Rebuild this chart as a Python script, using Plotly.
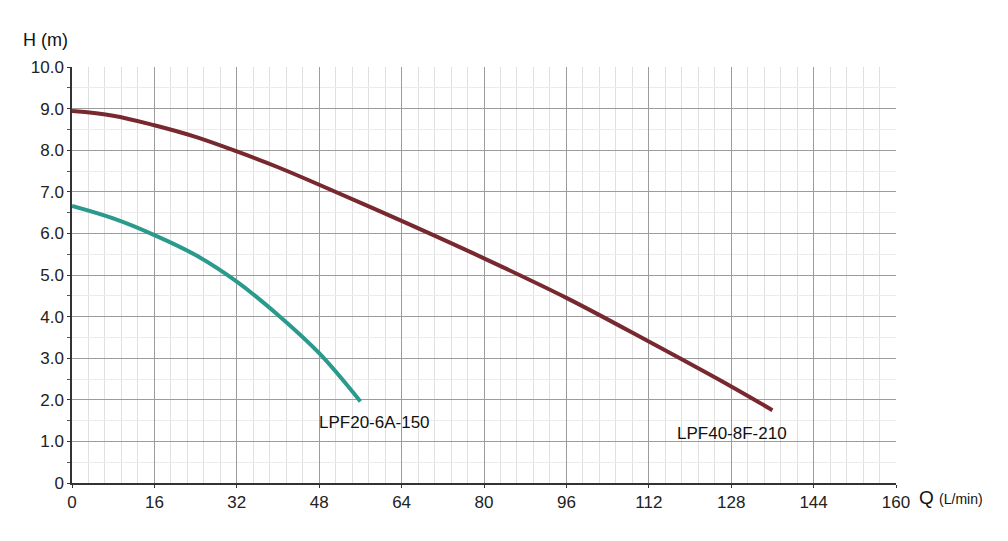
import plotly.graph_objects as go

# LPF40-8F-210 curve
q_lpf40 = [0, 8, 16, 24, 32, 40, 48, 64, 80, 96, 112, 128, 136]
h_lpf40 = [8.94, 8.83, 8.60, 8.32, 7.97, 7.59, 7.17, 6.30, 5.40, 4.45, 3.40, 2.32, 1.75]

# LPF20-6A-150 curve
q_lpf20 = [0, 8, 16, 24, 32, 40, 48, 56]
h_lpf20 = [6.66, 6.36, 5.96, 5.48, 4.84, 4.04, 3.12, 1.96]

x_ticks = [0, 16, 32, 48, 64, 80, 96, 112, 128, 144, 160]
y_ticks = [0, 1, 2, 3, 4, 5, 6, 7, 8, 9, 10]
y_labels = ["0", "1.0", "2.0", "3.0", "4.0", "5.0", "6.0", "7.0", "8.0", "9.0", "10.0"]

fig = go.Figure()
fig.add_trace(go.Scatter(x=q_lpf40, y=h_lpf40, mode='lines', line_shape='spline',
                         line=dict(color='#77292f', width=4), hoverinfo='x+y', name='LPF40-8F-210'))
fig.add_trace(go.Scatter(x=q_lpf20, y=h_lpf20, mode='lines', line_shape='spline',
                         line=dict(color='#2a9a8c', width=4), hoverinfo='x+y', name='LPF20-6A-150'))

fig.add_annotation(x=47.5, y=1.45, text='LPF20-6A-150', showarrow=False, xanchor='left',
                   font=dict(size=17, color='#111'))
fig.add_annotation(x=117, y=1.2, text='LPF40-8F-210', showarrow=False, xanchor='left',
                   font=dict(size=17, color='#111'))

# axis titles
fig.add_annotation(xref='paper', yref='paper', x=-0.062, y=1.035, text='H (m)', showarrow=False,
                   xanchor='left', yanchor='bottom', font=dict(size=18, color='#111'))
fig.add_annotation(xref='paper', yref='paper', x=1.025, y=-0.035, text="Q <span style='font-size:14px'>(L/min)</span>",
                   showarrow=False, xanchor='left', yanchor='middle', font=dict(size=19, color='#111'))

fig.update_xaxes(range=[0, 160], tickvals=x_ticks, showgrid=True, gridcolor='#9c9c9c', gridwidth=1,
                 minor=dict(dtick=3.2, showgrid=True, gridcolor='#e0e0e0', gridwidth=1),
                 showline=True, linecolor='#333', linewidth=1.5, ticks='outside', ticklen=3,
                 tickcolor='#333', zeroline=False, tickfont=dict(size=17, color='#222'))
fig.update_yaxes(range=[0, 10], tickvals=y_ticks, ticktext=y_labels, showgrid=True, gridcolor='#9c9c9c',
                 gridwidth=1, minor=dict(dtick=0.5, showgrid=True, gridcolor='#ebebeb', gridwidth=1,
                                         ticks='outside', ticklen=3, tickcolor='#555'),
                 showline=True, linecolor='#333', linewidth=1.5, ticks='outside', ticklen=3,
                 tickcolor='#333', zeroline=False, tickfont=dict(size=17, color='#222'))

fig.update_layout(width=1008, height=541, margin=dict(l=64, r=120, t=59, b=66),
                  paper_bgcolor='white', plot_bgcolor='white', showlegend=False,
                  font=dict(family='Liberation Sans, Arial, sans-serif'))

fig.write_html("out.html")
